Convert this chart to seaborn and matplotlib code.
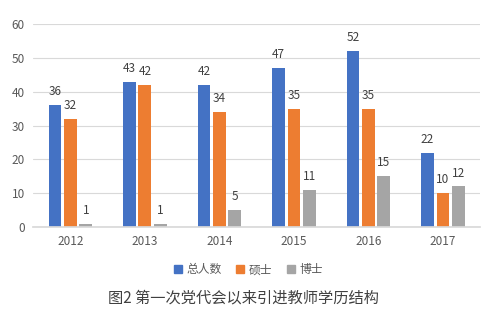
import matplotlib
matplotlib.use("Agg")
import matplotlib.pyplot as plt
import seaborn as sns
import pandas as pd

years = ["2012", "2013", "2014", "2015", "2016", "2017"]
total = [36, 43, 42, 47, 52, 22]
master = [32, 42, 34, 35, 35, 10]
phd = [1, 1, 5, 11, 15, 12]
series = ["总人数", "硕士", "博士"]
colors = ["#4472C4", "#ED7D31", "#A5A5A5"]

rows = []
for name, vals in zip(series, [total, master, phd]):
    for y, v in zip(years, vals):
        rows.append({"year": y, "series": name, "value": v})
df = pd.DataFrame(rows)

sns.set_theme(style="white")
plt.rcParams['font.family'] = ['Noto Sans CJK SC', 'DejaVu Sans']

fig = plt.figure(figsize=(4.87, 3.24), dpi=100)
ax = fig.add_axes([0.068, 0.299, 0.918, 0.627])
sns.barplot(data=df, x="year", y="value", hue="series", hue_order=series,
            palette=colors, width=0.62, gap=0.17, ax=ax, legend=False,
            saturation=1, linewidth=0)
ax.set_ylim(0, 60)
ax.set_xlim(-0.5, 5.5)
ax.set_yticks(range(0, 61, 10))
ax.yaxis.grid(True, color="#D9D9D9", linewidth=0.8)
ax.set_axisbelow(True)
for s in ["top", "right", "left"]:
    ax.spines[s].set_visible(False)
ax.spines["bottom"].set_color("#D9D9D9")
ax.set_xlabel("")
ax.set_ylabel("")
ax.tick_params(axis="both", length=0, labelsize=8.5, colors="#595959", pad=6)
for c in ax.containers:
    ax.bar_label(c, padding=5, fontsize=8.5, color="#404040")

handles = [plt.Rectangle((0, 0), 1, 1, color=c) for c in colors]
fig.legend(handles, series, loc="center", bbox_to_anchor=(0.51, 0.167), ncol=3,
           frameon=False, fontsize=8.5, handlelength=0.7, handleheight=0.7,
           columnspacing=1.2, handletextpad=0.4, labelcolor="#595959")
fig.text(0.5, 0.08, "图2 第一次党代会以来引进教师学历结构", ha="center", va="center",
         fontsize=11, color="#404040")
fig.savefig("out.png", dpi=100)
